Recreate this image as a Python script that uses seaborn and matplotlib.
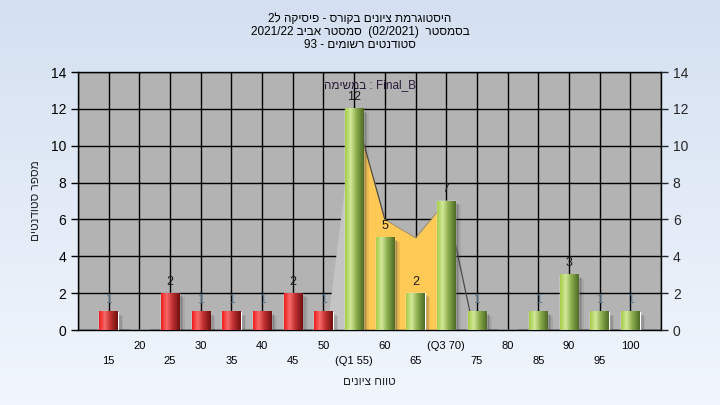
import re
import numpy as np
import pandas as pd
import matplotlib
matplotlib.use("Agg")
import matplotlib.pyplot as plt
from matplotlib.colors import LinearSegmentedColormap
from matplotlib.patches import Rectangle
import seaborn as sns

# נתוני ההיסטוגרמה
scores = [15, 20, 25, 30, 35, 40, 45, 50, 55, 60, 65, 70, 75, 80, 85, 90, 95, 100]
counts = [1, 0, 2, 1, 1, 1, 2, 1, 12, 5, 2, 7, 1, 0, 1, 3, 1, 1]
tick_names = ["15", "20", "25", "30", "35", "40", "45", "50", "(Q1 55)", "60",
              "65", "(Q3 70)", "75", "80", "85", "90", "95", "100"]
q1, q3 = 55, 70
pass_mark = 55

# עקומת הרקע (מוערכת מהתמונה)
curve_scores = [50.5, 55, 60, 65, 70, 74.5]
curve_vals = [0, 12, 6, 5, 7, 0]

title_lines = ["היסטוגרמת ציונים בקורס - פיסיקה ל2",
               "בסמסטר  (02/2021)  סמסטר אביב 2021/22",
               "סטודנטים רשומים - 93"]
task_word = "במשימה"
task_name = "Final_B"
x_title = "טווח ציונים"
y_title = "מספר סטודנטים"


# matplotlib לא מטפל בכיווניות - הופכים ידנית לסדר ויזואלי
def rtl(s):
    s = s[::-1]
    s = re.sub(r"[0-9A-Za-z_/.]+", lambda m: m.group(0)[::-1], s)
    return s.translate(str.maketrans("()", ")("))


def pos(score):
    return (score - scores[0]) / 5


sns.set_style("white")
plt.rcParams['font.family'] = ['Liberation Sans', 'DejaVu Sans']

fig = plt.figure(figsize=(7.2, 4.05), dpi=100)

# רקע מדורג
bg = fig.add_axes([0, 0, 1, 1], zorder=-5)
bg.imshow(np.linspace(0, 1, 100).reshape(-1, 1),
          cmap=LinearSegmentedColormap.from_list("bg", ["#d4e0f1", "#f1f6fd"]),
          aspect='auto', extent=[0, 1, 0, 1])
bg.axis('off')

ax = fig.add_axes([78 / 720, 1 - 330 / 405, 583 / 720, 258 / 405])
ax.set_facecolor("#b3b3b3")

df = pd.DataFrame({
    "score": [str(s) for s in scores],
    "count": counts,
    "group": ["low" if s < pass_mark else "high" for s in scores],
})
sns.barplot(data=df, x="score", y="count", hue="group",
            palette={"low": "#e02626", "high": "#9cc04c"},
            width=0.6, dodge=False, legend=False, ax=ax, zorder=3)

# עקומה ברקע
cx = [pos(s) for s in curve_scores]
ax.fill_between(cx[:2], curve_vals[:2], color="#c4c4c4", zorder=1, lw=0)
iq = [i for i, s in enumerate(curve_scores) if q1 <= s <= q3]
ax.fill_between([cx[i] for i in iq], [curve_vals[i] for i in iq],
                color="#ffc956", zorder=1, lw=0)
ax.plot(cx[1:3], curve_vals[1:3], color="#4a4a4a", lw=0.9, zorder=1.5)
ax.plot(cx[2:5], curve_vals[2:5], color="#9a8a60", lw=0.6, zorder=1.5)
ax.plot(cx[4:], curve_vals[4:], color="#4a4a4a", lw=0.9, zorder=1.5)

# גליל עם הצללה
red_cmap = LinearSegmentedColormap.from_list(
    "r", [(0, "#f01c1c"), (0.3, "#f86a6a"), (0.6, "#c03030"), (1, "#6e1010")])
green_cmap = LinearSegmentedColormap.from_list(
    "g", [(0, "#a6cc48"), (0.3, "#d2e89a"), (0.6, "#8cae4c"), (1, "#4e6a26")])
grad = np.linspace(0, 1, 64).reshape(1, -1)
for p in list(ax.patches):
    h = p.get_height()
    if h <= 0:
        continue
    x0, w = p.get_x(), p.get_width()
    score = scores[int(round(x0 + w / 2))]
    cmap = red_cmap if score < pass_mark else green_cmap
    for k, a in enumerate([0.2, 0.14, 0.09]):
        ax.add_patch(Rectangle((x0 + 0.08 + 0.05 * k, 0), w, h - 0.12 - 0.05 * k,
                               color="#303030", alpha=a, lw=0, zorder=2.5))
    ax.imshow(grad, cmap=cmap, aspect='auto', extent=[x0, x0 + w, 0, h],
              interpolation='bilinear', zorder=3.2)
    ax.text(x0 + w / 2, h + 0.3, str(int(h)), ha='center', va='bottom',
            fontsize=9, color="#5a7890" if h == 1 else "#1a1a1a", zorder=4)

ax.set_xlim(-1, 18)
ax.set_ylim(0, 14)

ax.text(0.5, 0.95, rtl(task_word) + " : " + task_name, transform=ax.transAxes,
        ha='center', va='center', fontsize=8.5, color="#2a1a3a", zorder=4)

# צירים
ax.set_xticks(range(-1, 19))
labels = [""] + [("\n" + t) if i % 2 == 0 else (t + "\n") for i, t in enumerate(tick_names)] + [""]
ax.set_xticklabels(labels, fontsize=8)
for t in ax.get_xticklabels():
    t.set_linespacing(1.6)
ax.set_yticks(range(0, 15, 2))
ax.tick_params(axis='y', labelsize=10, length=5, width=1, direction='out', colors='black')
ax.tick_params(axis='x', length=5, width=1, direction='out', pad=3, colors='black')
ax.grid(True, color='black', lw=1)
ax.set_axisbelow(True)
for sp in ax.spines.values():
    sp.set_color('black')
    sp.set_linewidth(1)
ax.set_xlabel(rtl(x_title), fontsize=8.5, labelpad=7)
ax.set_ylabel(rtl(y_title), fontsize=8.5, labelpad=6)

ax2 = ax.twinx()
ax2.set_ylim(0, 14)
ax2.set_yticks(range(0, 15, 2))
ax2.tick_params(axis='y', labelsize=10, length=5, width=1, direction='out')
for sp in ax2.spines.values():
    sp.set_visible(False)

for i, line in enumerate(title_lines):
    fig.text(0.5, 1 - (18.5 + 13.5 * i) / 405, rtl(line), ha='center', va='center',
             fontsize=8.5, color='black')

fig.savefig("out.png", dpi=100)
